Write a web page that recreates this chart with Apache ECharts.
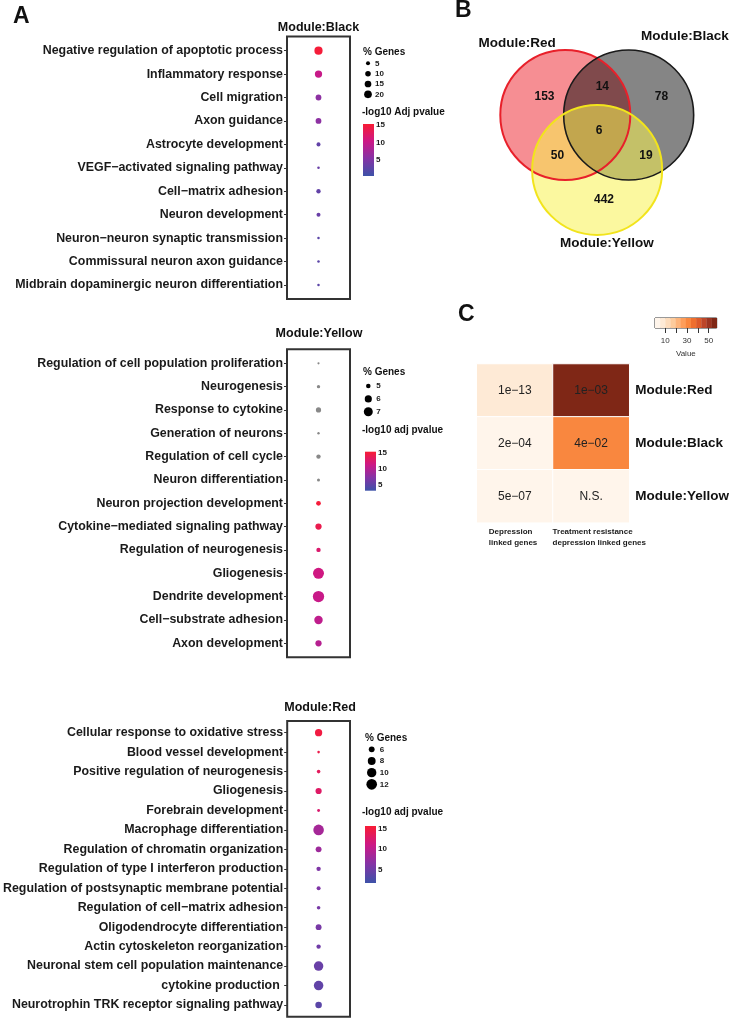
<!DOCTYPE html>
<html>
<head>
<meta charset="utf-8">
<script src="https://cdn.jsdelivr.net/npm/echarts@6/dist/echarts.min.js"></script>
<style>
  html, body { margin: 0; padding: 0; background: #fff; }
  #graph { width: 732px; height: 1019px; }
</style>
</head>
<body>
<div id="graph"></div>
<script>
// ---- Panel A data ----
var blackTerms = ['Negative regulation of apoptotic process', 'Inflammatory response', 'Cell migration',
  'Axon guidance', 'Astrocyte development', 'VEGF\u2212activated signaling pathway', 'Cell\u2212matrix adhesion',
  'Neuron development', 'Neuron\u2212neuron synaptic transmission', 'Commissural neuron axon guidance',
  'Midbrain dopaminergic neuron differentiation'];
var blackPct = [23, 18, 11, 11, 5, 2, 6, 5, 2, 2, 2];
var blackPval = [15, 10, 6, 6, 3, 3.5, 3, 3.5, 2.5, 2.5, 2.5];
var blackSizeBreaks = [5, 10, 15, 20];

var yellowTerms = ['Regulation of cell population proliferation', 'Neurogenesis', 'Response to cytokine',
  'Generation of neurons', 'Regulation of cell cycle', 'Neuron differentiation', 'Neuron projection development',
  'Cytokine\u2212mediated signaling pathway', 'Regulation of neurogenesis', 'Gliogenesis', 'Dendrite development',
  'Cell\u2212substrate adhesion', 'Axon development'];
var yellowPct = [4.5, 4.7, 5.2, 4.55, 4.95, 4.65, 5.05, 5.6, 4.95, 8.4, 8.7, 6.7, 5.6];
var yellowPval = [null, null, null, null, null, null, 15, 14, 12.5, 11.5, 11, 10.5, 10];
var yellowSizeBreaks = [5, 6, 7];

var redTerms = ['Cellular response to oxidative stress', 'Blood vessel development',
  'Positive regulation of neurogenesis', 'Gliogenesis', 'Forebrain development', 'Macrophage differentiation',
  'Regulation of chromatin organization', 'Regulation of type I interferon production',
  'Regulation of postsynaptic membrane potential', 'Regulation of cell\u2212matrix adhesion',
  'Oligodendrocyte differentiation', 'Actin cytoskeleton reorganization',
  'Neuronal stem cell population maintenance', 'cytokine production ', 'Neurotrophin TRK receptor signaling pathway'];
var redPct = [7.4, 4.1, 4.5, 6.3, 4.2, 11.9, 6.0, 4.9, 4.7, 4.5, 6.0, 4.9, 10.2, 10.2, 6.6];
var redPval = [15, 14.5, 13.5, 13, 12.5, 8.5, 8, 6, 6, 5.5, 5.5, 5, 4.5, 4, 3.5];
var redSizeBreaks = [6, 8, 10, 12];

var pvalTicks = [5, 10, 15];

// ---- Panel B data ----
var vennSets = ['Module:Red', 'Module:Black', 'Module:Yellow'];
var vennRegions = ['Red', 'Red+Black', 'Black', 'Red+Black+Yellow', 'Red+Yellow', 'Black+Yellow', 'Yellow'];
var vennCounts = [153, 14, 78, 6, 50, 19, 442];

// ---- Panel C data ----
var hmRows = ['Module:Red', 'Module:Black', 'Module:Yellow'];
var hmCols = ['Depression\nlinked genes', 'Treatment resistance\ndepression linked genes'];
var hmValues = [[8, 57], [3, 30], [2, 1.5]];
var hmLabels = [['1e\u221213', '1e\u221203'], ['2e\u221204', '4e\u221202'], ['5e\u221207', 'N.S.']];
var keyTicks = [10, 20, 30, 40, 50];
var keyLabels = [10, 30, 50];

// ---- styling / layout ----
var FONT = '"Liberation Sans", Arial, sans-serif';
var pvalColors = ['#3d52a8', '#8434a6', '#cc1886', '#f81c34'];
var keyColors = ['#fff5eb', '#feead6', '#fddcbc', '#fdcb9c', '#fdb47b', '#fd9d5a',
  '#f9873f', '#ee6f2e', '#dc5a29', '#bd4628', '#9c3521', '#7f2716'];
var keyMin = 0.5, keyMax = 57.4;

// area-proportional point size, in px diameter
function sizeScale(a, b) {
  return function (v) { return 1.1 * Math.sqrt(Math.max(a * v + b, 1.8)) + 0.7; };
}

var grid = [], xAxis = [], yAxis = [], series = [], visualMap = [];

function addGrid(g, xa, ya) {
  grid.push(g);
  var gi = grid.length - 1;
  xa.gridIndex = gi;
  ya.gridIndex = gi;
  xAxis.push(xa);
  yAxis.push(ya);
  return gi;
}

function dotPanel(m) {
  var n = m.terms.length;
  var rows = [];
  for (var i = 1; i <= n; i++) rows.push(i);

  var gi = addGrid(
    { left: 287, top: m.top, width: 63, height: (n + 0.2) * m.step, show: true,
      borderColor: '#333', borderWidth: 2 },
    { type: 'value', min: 0.4, max: 1.6, show: false },
    { type: 'value', inverse: true, min: 0.4, max: n + 0.6,
      splitLine: { show: false }, axisLine: { show: false },
      axisTick: { show: true, length: 3, customValues: rows, lineStyle: { color: '#333' } },
      axisLabel: { customValues: rows, margin: 4, fontSize: 12.4, fontWeight: 'bold', color: '#1a1a1a',
        fontFamily: FONT, formatter: function (v) { return m.terms[Math.round(v) - 1]; } } }
  );

  var colored = [], na = [];
  for (var j = 0; j < n; j++) {
    if (m.pval[j] == null) na.push([1, j + 1, 0, m.pct[j]]);
    else colored.push([1, j + 1, m.pval[j], m.pct[j]]);
  }
  series.push({ type: 'scatter', xAxisIndex: gi, yAxisIndex: gi, data: colored, silent: true,
    itemStyle: { opacity: 1 },
    symbolSize: function (val) { return m.size(val[3]); } });
  visualMap.push({ type: 'continuous', show: false, seriesIndex: series.length - 1, dimension: 2,
    min: m.range[0], max: m.range[1], inRange: { color: pvalColors } });
  if (na.length) {
    series.push({ type: 'scatter', xAxisIndex: gi, yAxisIndex: gi, data: na, silent: true,
      itemStyle: { color: '#888888', opacity: 1 },
      symbolSize: function (val) { return m.size(val[3]); } });
  }

  // size legend
  var k = m.breaks.length;
  var gs = addGrid(
    { left: m.sizeX - 6, top: m.sizeTop, width: 12, height: k * m.sizeStep },
    { type: 'value', min: -1, max: 1, show: false },
    { type: 'category', inverse: true, position: 'right', data: m.breaks.map(String),
      axisLine: { show: false }, axisTick: { show: false },
      axisLabel: { interval: 0, margin: m.sizeMargin, fontSize: 8, fontWeight: 'bold', color: '#1a1a1a',
        fontFamily: FONT } }
  );
  series.push({ type: 'scatter', xAxisIndex: gs, yAxisIndex: gs, silent: true,
    data: m.breaks.map(function (b, i) { return [0, i, b]; }),
    itemStyle: { color: '#000', opacity: 1 },
    symbolSize: function (val) { return m.size(val[2]); } });

  // colour bar legend
  var gc = addGrid(
    { left: m.barX, top: m.barTop, width: 11, height: m.barH },
    { type: 'value', min: 0, max: 1, show: false },
    { type: 'value', position: 'right', min: m.range[0], max: m.range[1],
      splitLine: { show: false }, axisLine: { show: false },
      axisTick: { show: true, inside: true, length: 2, customValues: pvalTicks, lineStyle: { color: '#fff' } },
      axisLabel: { customValues: pvalTicks, margin: 2, fontSize: 8, fontWeight: 'bold', color: '#1a1a1a',
        fontFamily: FONT } }
  );
  series.push({ type: 'custom', xAxisIndex: gc, yAxisIndex: gc, silent: true,
    data: [[0, m.range[0], 1, m.range[1]]],
    encode: { x: [0, 2], y: [1, 3] },
    renderItem: function (params, api) {
      var p1 = api.coord([api.value(0), api.value(3)]);
      var p2 = api.coord([api.value(2), api.value(1)]);
      var stops = pvalColors.map(function (c, i) { return { offset: i / (pvalColors.length - 1), color: c }; });
      return { type: 'rect', shape: { x: p1[0], y: p1[1], width: p2[0] - p1[0], height: p2[1] - p1[1] },
        style: { fill: new echarts.graphic.LinearGradient(0, 1, 0, 0, stops) } };
    } });
}

dotPanel({ terms: blackTerms, pct: blackPct, pval: blackPval, breaks: blackSizeBreaks,
  size: sizeScale(2.07, -1.3), range: [0.43, 15.3], top: 36.6, step: 23.43,
  sizeX: 368, sizeTop: 58.2, sizeStep: 10.33, sizeMargin: 1,
  barX: 363, barTop: 124, barH: 52 });
dotPanel({ terms: yellowTerms, pct: yellowPct, pval: yellowPval, breaks: yellowSizeBreaks,
  size: sizeScale(22, -97.75), range: [3.1, 15.3], top: 349.3, step: 23.33,
  sizeX: 368.3, sizeTop: 379.6, sizeStep: 12.85, sizeMargin: 2,
  barX: 365, barTop: 451.7, barH: 39 });
dotPanel({ terms: redTerms, pct: redPct, pval: redPval, breaks: redSizeBreaks,
  size: sizeScale(10, -38), range: [1.6, 15.8], top: 721, step: 19.45,
  sizeX: 371.7, sizeTop: 743.5, sizeStep: 11.67, sizeMargin: 2,
  barX: 365, barTop: 826, barH: 57 });

// ---- Panel B: venn ----
var vennCircles = [[0, 0, 1], [0.975, 0, 1], [0.49, -0.845, 1]];
var vennFill = ['rgba(238,30,40,0.5)', 'rgba(0,0,0,0.48)', 'rgba(248,242,80,0.55)'];
var vennStroke = ['#e8202a', '#1a1a1a', '#f2e41c'];
var vennSetPos = [[-0.74, 1.11], [1.84, 1.215], [0.64, -1.97]];
var vennCountPos = [[-0.32, 0.28], [0.57, 0.435], [1.48, 0.28], [0.52, -0.24], [-0.12, -0.63], [1.24, -0.63], [0.595, -1.31]];

var gv = addGrid(
  { left: 467.8, top: 17.5, width: 260, height: 240.5 },
  { type: 'value', min: -1.5, max: 2.5, show: false },
  { type: 'value', min: -2.2, max: 1.5, show: false }
);
function circleSeries(fill) {
  return { type: 'custom', xAxisIndex: gv, yAxisIndex: gv, silent: true, data: vennCircles,
    renderItem: function (params, api) {
      var c = api.coord([api.value(0), api.value(1)]);
      var r = api.size([api.value(2), 0])[0];
      var i = params.dataIndex;
      return { type: 'circle', shape: { cx: c[0], cy: c[1], r: r },
        style: fill ? { fill: vennFill[i], stroke: null } : { fill: null, stroke: vennStroke[i], lineWidth: i === 1 ? 1.6 : 2 } };
    } };
}
function textSeries(pos, texts, size) {
  return { type: 'custom', xAxisIndex: gv, yAxisIndex: gv, silent: true, data: pos,
    renderItem: function (params, api) {
      var c = api.coord([api.value(0), api.value(1)]);
      return { type: 'text', x: c[0], y: c[1],
        style: { text: String(texts[params.dataIndex]), align: 'center', verticalAlign: 'middle',
          fontSize: size, fontWeight: 'bold', fontFamily: FONT, fill: '#111' } };
    } };
}
series.push(circleSeries(true));
series.push(circleSeries(false));
series.push(textSeries(vennCountPos, vennCounts, 12));
series.push(textSeries(vennSetPos, vennSets, 13.5));

// ---- Panel C: heatmap ----
var colLabelStyle = { align: 'left', fontSize: 8, fontWeight: 'bold', fontFamily: FONT, color: '#1a1a1a', lineHeight: 10.5 };
var gh = addGrid(
  { left: 476.7, top: 364, width: 152.6, height: 158.7 },
  { type: 'category', data: hmCols, splitArea: { show: false }, axisLine: { show: false }, axisTick: { show: false },
    axisLabel: { margin: 4, color: '#1a1a1a', interval: 0,
      formatter: function (v, idx) {
        return v.split('\n').map(function (s) { return '{c' + idx + '|' + s + '}'; }).join('\n');
      },
      rich: { c0: Object.assign({ width: 52 }, colLabelStyle), c1: Object.assign({ width: 77 }, colLabelStyle) } } },
  { type: 'category', data: hmRows, inverse: true, position: 'right', splitArea: { show: false },
    axisLine: { show: false }, axisTick: { show: false },
    axisLabel: { margin: 6, fontSize: 13.5, fontWeight: 'bold', fontFamily: FONT, color: '#111' } }
);
var hmData = [];
for (var r = 0; r < hmRows.length; r++) {
  for (var c = 0; c < hmCols.length; c++) hmData.push([c, r, hmValues[r][c]]);
}
series.push({ type: 'heatmap', xAxisIndex: gh, yAxisIndex: gh, data: hmData, silent: true,
  itemStyle: { borderColor: '#fff', borderWidth: 1 },
  label: { show: true, fontSize: 12, fontFamily: FONT, color: '#222',
    formatter: function (p) { return hmLabels[p.data[1]][p.data[0]]; } } });
var keyStep = (keyMax - keyMin) / keyColors.length;
var keyBins = keyColors.map(function (col, i) { return [keyMin + i * keyStep, keyMin + (i + 1) * keyStep, i]; });
visualMap.push({ type: 'piecewise', show: false, seriesIndex: series.length - 1, dimension: 2,
  pieces: keyBins.map(function (b, i) {
    var p = { lt: b[1], color: keyColors[i] };
    if (i > 0) p.gte = b[0];
    if (i === keyBins.length - 1) delete p.lt;
    return p;
  }) });

// colour key
var gk = addGrid(
  { left: 655, top: 318, width: 61.7, height: 10, show: true, borderColor: '#333', borderWidth: 1 },
  { type: 'value', min: keyMin, max: keyMax, splitLine: { show: false }, axisLine: { show: false },
    axisTick: { show: true, length: 5, customValues: keyTicks, lineStyle: { color: '#333' } },
    axisLabel: { customValues: keyLabels, margin: 9, fontSize: 8, color: '#333', fontFamily: FONT },
    name: 'Value', nameLocation: 'middle', nameGap: 22, nameTextStyle: { fontSize: 8, color: '#333', fontFamily: FONT } },
  { type: 'value', min: 0, max: 1, show: false }
);
series.push({ type: 'custom', xAxisIndex: gk, yAxisIndex: gk, silent: true, data: keyBins,
  encode: { x: [0, 1] },
  renderItem: function (params, api) {
    var p1 = api.coord([api.value(0), 1]);
    var p2 = api.coord([api.value(1), 0]);
    return { type: 'rect', shape: { x: p1[0], y: p1[1], width: p2[0] - p1[0] + 0.3, height: p2[1] - p1[1] },
      style: { fill: keyColors[api.value(2)] } };
  } });

// ---- free text ----
function txt(x, y, s, size, align) {
  return { type: 'text', x: x, y: y, silent: true,
    style: { text: s, align: align || 'left', verticalAlign: 'middle', fontSize: size, fontWeight: 'bold',
      fontFamily: FONT, fill: '#111' } };
}
var graphic = [
  txt(13, 17, 'A', 23), txt(455, 11, 'B', 23), txt(458, 315, 'C', 23),
  txt(318.5, 28, 'Module:Black', 12.5, 'center'),
  txt(319, 334, 'Module:Yellow', 12.5, 'center'),
  txt(320, 708, 'Module:Red', 12.5, 'center'),
  txt(363, 52, '% Genes', 10), txt(362, 112, '-log10 Adj pvalue', 10),
  txt(363, 372, '% Genes', 10), txt(362, 430, '-log10 adj pvalue', 10),
  txt(365, 738, '% Genes', 10), txt(362, 812, '-log10 adj pvalue', 10)
];

var dom = document.getElementById('graph');
var myChart = echarts.init(dom);
var option = {
  backgroundColor: '#fff',
  animation: false,
  grid: grid,
  xAxis: xAxis,
  yAxis: yAxis,
  visualMap: visualMap,
  series: series,
  graphic: graphic
};
myChart.setOption(option, true);
</script>
</body>
</html>
